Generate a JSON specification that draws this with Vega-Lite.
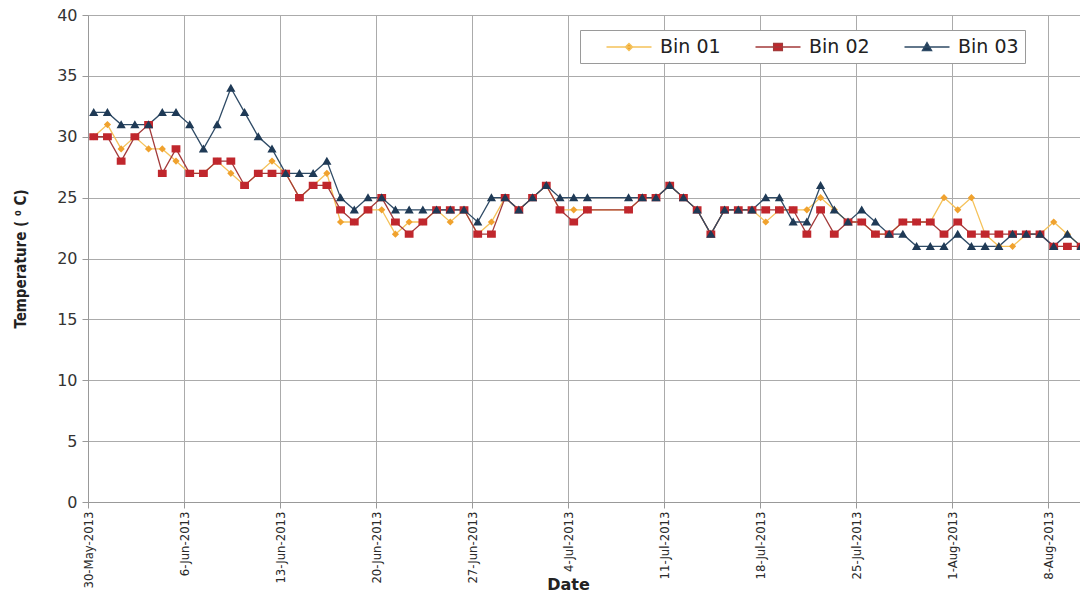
{
  "$schema": "https://vega.github.io/schema/vega-lite/v6.json",
  "width": 992,
  "height": 487,
  "autosize": {"type": "none"},
  "padding": {"left": 88, "top": 15, "right": 0, "bottom": 92},
  "background": "white",
  "config": {
    "view": {"stroke": null},
    "axis": {"gridColor": "#ABABAB", "gridWidth": 1, "domainColor": "#999999", "tickColor": "#999999", "tickSize": 6}
  },
  "data": {
    "values": [
      {"date": "2013-05-30T10:00", "Bin 01": 30, "Bin 02": 30, "Bin 03": 32},
      {"date": "2013-05-31T10:00", "Bin 01": 31, "Bin 02": 30, "Bin 03": 32},
      {"date": "2013-06-01T10:00", "Bin 01": 29, "Bin 02": 28, "Bin 03": 31},
      {"date": "2013-06-02T10:00", "Bin 01": 30, "Bin 02": 30, "Bin 03": 31},
      {"date": "2013-06-03T10:00", "Bin 01": 29, "Bin 02": 31, "Bin 03": 31},
      {"date": "2013-06-04T10:00", "Bin 01": 29, "Bin 02": 27, "Bin 03": 32},
      {"date": "2013-06-05T10:00", "Bin 01": 28, "Bin 02": 29, "Bin 03": 32},
      {"date": "2013-06-06T10:00", "Bin 01": 27, "Bin 02": 27, "Bin 03": 31},
      {"date": "2013-06-07T10:00", "Bin 01": 27, "Bin 02": 27, "Bin 03": 29},
      {"date": "2013-06-08T10:00", "Bin 01": 28, "Bin 02": 28, "Bin 03": 31},
      {"date": "2013-06-09T10:00", "Bin 01": 27, "Bin 02": 28, "Bin 03": 34},
      {"date": "2013-06-10T10:00", "Bin 01": 26, "Bin 02": 26, "Bin 03": 32},
      {"date": "2013-06-11T10:00", "Bin 01": 27, "Bin 02": 27, "Bin 03": 30},
      {"date": "2013-06-12T10:00", "Bin 01": 28, "Bin 02": 27, "Bin 03": 29},
      {"date": "2013-06-13T10:00", "Bin 01": 27, "Bin 02": 27, "Bin 03": 27},
      {"date": "2013-06-14T10:00", "Bin 01": 25, "Bin 02": 25, "Bin 03": 27},
      {"date": "2013-06-15T10:00", "Bin 01": 26, "Bin 02": 26, "Bin 03": 27},
      {"date": "2013-06-16T10:00", "Bin 01": 27, "Bin 02": 26, "Bin 03": 28},
      {"date": "2013-06-17T10:00", "Bin 01": 23, "Bin 02": 24, "Bin 03": 25},
      {"date": "2013-06-18T10:00", "Bin 01": 23, "Bin 02": 23, "Bin 03": 24},
      {"date": "2013-06-19T10:00", "Bin 01": 24, "Bin 02": 24, "Bin 03": 25},
      {"date": "2013-06-20T10:00", "Bin 01": 24, "Bin 02": 25, "Bin 03": 25},
      {"date": "2013-06-21T10:00", "Bin 01": 22, "Bin 02": 23, "Bin 03": 24},
      {"date": "2013-06-22T10:00", "Bin 01": 23, "Bin 02": 22, "Bin 03": 24},
      {"date": "2013-06-23T10:00", "Bin 01": 23, "Bin 02": 23, "Bin 03": 24},
      {"date": "2013-06-24T10:00", "Bin 01": 24, "Bin 02": 24, "Bin 03": 24},
      {"date": "2013-06-25T10:00", "Bin 01": 23, "Bin 02": 24, "Bin 03": 24},
      {"date": "2013-06-26T10:00", "Bin 01": 24, "Bin 02": 24, "Bin 03": 24},
      {"date": "2013-06-27T10:00", "Bin 01": 22, "Bin 02": 22, "Bin 03": 23},
      {"date": "2013-06-28T10:00", "Bin 01": 23, "Bin 02": 22, "Bin 03": 25},
      {"date": "2013-06-29T10:00", "Bin 01": 25, "Bin 02": 25, "Bin 03": 25},
      {"date": "2013-06-30T10:00", "Bin 01": 24, "Bin 02": 24, "Bin 03": 24},
      {"date": "2013-07-01T10:00", "Bin 01": 25, "Bin 02": 25, "Bin 03": 25},
      {"date": "2013-07-02T10:00", "Bin 01": 26, "Bin 02": 26, "Bin 03": 26},
      {"date": "2013-07-03T10:00", "Bin 01": 24, "Bin 02": 24, "Bin 03": 25},
      {"date": "2013-07-04T10:00", "Bin 01": 24, "Bin 02": 23, "Bin 03": 25},
      {"date": "2013-07-05T10:00", "Bin 01": 24, "Bin 02": 24, "Bin 03": 25},
      {"date": "2013-07-08T10:00", "Bin 01": 24, "Bin 02": 24, "Bin 03": 25},
      {"date": "2013-07-09T10:00", "Bin 01": 25, "Bin 02": 25, "Bin 03": 25},
      {"date": "2013-07-10T10:00", "Bin 01": 25, "Bin 02": 25, "Bin 03": 25},
      {"date": "2013-07-11T10:00", "Bin 01": 26, "Bin 02": 26, "Bin 03": 26},
      {"date": "2013-07-12T10:00", "Bin 01": 25, "Bin 02": 25, "Bin 03": 25},
      {"date": "2013-07-13T10:00", "Bin 01": 24, "Bin 02": 24, "Bin 03": 24},
      {"date": "2013-07-14T10:00", "Bin 01": 22, "Bin 02": 22, "Bin 03": 22},
      {"date": "2013-07-15T10:00", "Bin 01": 24, "Bin 02": 24, "Bin 03": 24},
      {"date": "2013-07-16T10:00", "Bin 01": 24, "Bin 02": 24, "Bin 03": 24},
      {"date": "2013-07-17T10:00", "Bin 01": 24, "Bin 02": 24, "Bin 03": 24},
      {"date": "2013-07-18T10:00", "Bin 01": 23, "Bin 02": 24, "Bin 03": 25},
      {"date": "2013-07-19T10:00", "Bin 01": 24, "Bin 02": 24, "Bin 03": 25},
      {"date": "2013-07-20T10:00", "Bin 01": 24, "Bin 02": 24, "Bin 03": 23},
      {"date": "2013-07-21T10:00", "Bin 01": 24, "Bin 02": 22, "Bin 03": 23},
      {"date": "2013-07-22T10:00", "Bin 01": 25, "Bin 02": 24, "Bin 03": 26},
      {"date": "2013-07-23T10:00", "Bin 01": 24, "Bin 02": 22, "Bin 03": 24},
      {"date": "2013-07-24T10:00", "Bin 01": 23, "Bin 02": 23, "Bin 03": 23},
      {"date": "2013-07-25T10:00", "Bin 01": 23, "Bin 02": 23, "Bin 03": 24},
      {"date": "2013-07-26T10:00", "Bin 01": 22, "Bin 02": 22, "Bin 03": 23},
      {"date": "2013-07-27T10:00", "Bin 01": 22, "Bin 02": 22, "Bin 03": 22},
      {"date": "2013-07-28T10:00", "Bin 01": 23, "Bin 02": 23, "Bin 03": 22},
      {"date": "2013-07-29T10:00", "Bin 01": 23, "Bin 02": 23, "Bin 03": 21},
      {"date": "2013-07-30T10:00", "Bin 01": 23, "Bin 02": 23, "Bin 03": 21},
      {"date": "2013-07-31T10:00", "Bin 01": 25, "Bin 02": 22, "Bin 03": 21},
      {"date": "2013-08-01T10:00", "Bin 01": 24, "Bin 02": 23, "Bin 03": 22},
      {"date": "2013-08-02T10:00", "Bin 01": 25, "Bin 02": 22, "Bin 03": 21},
      {"date": "2013-08-03T10:00", "Bin 01": 22, "Bin 02": 22, "Bin 03": 21},
      {"date": "2013-08-04T10:00", "Bin 01": 21, "Bin 02": 22, "Bin 03": 21},
      {"date": "2013-08-05T10:00", "Bin 01": 21, "Bin 02": 22, "Bin 03": 22},
      {"date": "2013-08-06T10:00", "Bin 01": 22, "Bin 02": 22, "Bin 03": 22},
      {"date": "2013-08-07T10:00", "Bin 01": 22, "Bin 02": 22, "Bin 03": 22},
      {"date": "2013-08-08T10:00", "Bin 01": 23, "Bin 02": 21, "Bin 03": 21},
      {"date": "2013-08-09T10:00", "Bin 01": 22, "Bin 02": 21, "Bin 03": 22},
      {"date": "2013-08-10T10:00", "Bin 01": 21, "Bin 02": 21, "Bin 03": 21}
    ]
  },
  "transform": [{"fold": ["Bin 01", "Bin 02", "Bin 03"], "as": ["series", "temp"]}],
  "encoding": {
    "x": {
      "field": "date",
      "type": "temporal",
      "scale": {"domain": [{"year": 2013, "month": 5, "date": 30}, {"year": 2013, "month": 8, "date": 10, "hours": 8}]},
      "axis": {
        "values": [
          {"year": 2013, "month": 5, "date": 30},
          {"year": 2013, "month": 6, "date": 6},
          {"year": 2013, "month": 6, "date": 13},
          {"year": 2013, "month": 6, "date": 20},
          {"year": 2013, "month": 6, "date": 27},
          {"year": 2013, "month": 7, "date": 4},
          {"year": 2013, "month": 7, "date": 11},
          {"year": 2013, "month": 7, "date": 18},
          {"year": 2013, "month": 7, "date": 25},
          {"year": 2013, "month": 8, "date": 1},
          {"year": 2013, "month": 8, "date": 8}
        ],
        "format": "%-d-%b-%Y",
        "labelAngle": 270,
        "labelFlush": false,
        "labelOverlap": false,
        "labelBound": false,
        "labelFont": "DejaVu Sans Condensed",
        "labelFontSize": 13,
        "labelColor": "#2A2A2A",
        "labelPadding": 3,
        "grid": true,
        "title": "Date",
        "titleFont": "DejaVu Sans",
        "titleFontSize": 16,
        "titleFontWeight": "bold",
        "titleColor": "#222222",
        "titleX": 480,
        "titleY": 87,
        "titleAlign": "center",
        "titleBaseline": "alphabetic"
      }
    },
    "y": {
      "field": "temp",
      "type": "quantitative",
      "scale": {"domain": [0, 40], "nice": false},
      "axis": {
        "values": [0, 5, 10, 15, 20, 25, 30, 35, 40],
        "labelFont": "DejaVu Sans",
        "labelFontSize": 16,
        "labelColor": "#333333",
        "labelPadding": 5,
        "grid": true,
        "title": "Temperature ( \u2070 C)",
        "titleFont": "DejaVu Sans Condensed",
        "titleFontSize": 15,
        "titleFontWeight": "bold",
        "titleColor": "#222222",
        "titleX": -68,
        "titleY": 243.5,
        "titleAlign": "center",
        "titleBaseline": "middle"
      }
    }
  },
  "layer": [
    {
      "mark": {"type": "line", "strokeWidth": 1.3},
      "encoding": {
        "stroke": {
          "field": "series",
          "type": "nominal",
          "scale": {"domain": ["Bin 01", "Bin 02", "Bin 03"], "range": ["#F5C25A", "#A33A3A", "#2F4B66"]},
          "legend": {
            "orient": "none",
            "legendX": 492,
            "legendY": 15,
            "direction": "horizontal",
            "title": " ",
            "titleOrient": "left",
            "titleFontSize": 1,
            "titlePadding": 32,
            "padding": 6,
            "fillColor": "white",
            "strokeColor": "#9A9A9A",
            "labelFont": "DejaVu Sans",
            "labelFontSize": 19,
            "labelColor": "#222222",
            "symbolSize": 400,
            "symbolStrokeWidth": 1.3,
            "labelOffset": 20,
            "columnPadding": 31
          }
        }
      }
    },
    {
      "mark": {"type": "point", "filled": true, "opacity": 1, "size": 400},
      "encoding": {
        "fill": {
          "field": "series",
          "type": "nominal",
          "scale": {"domain": ["Bin 01", "Bin 02", "Bin 03"], "range": ["#F0A22E", "#C0272D", "#1F3A56"]}
        },
        "shape": {
          "field": "series",
          "type": "nominal",
          "scale": {
            "domain": ["Bin 01", "Bin 02", "Bin 03"],
            "range": [
              "M-2.25,0H2.25M0,-0.36L0.36,0L0,0.36L-0.36,0Z",
              "M-2.25,0H2.25M-0.44,-0.36H0.44V0.36H-0.44Z",
              "M-2.25,0H2.25M0,-0.44L0.46,0.36H-0.46Z"
            ]
          }
        }
      }
    }
  ]
}
